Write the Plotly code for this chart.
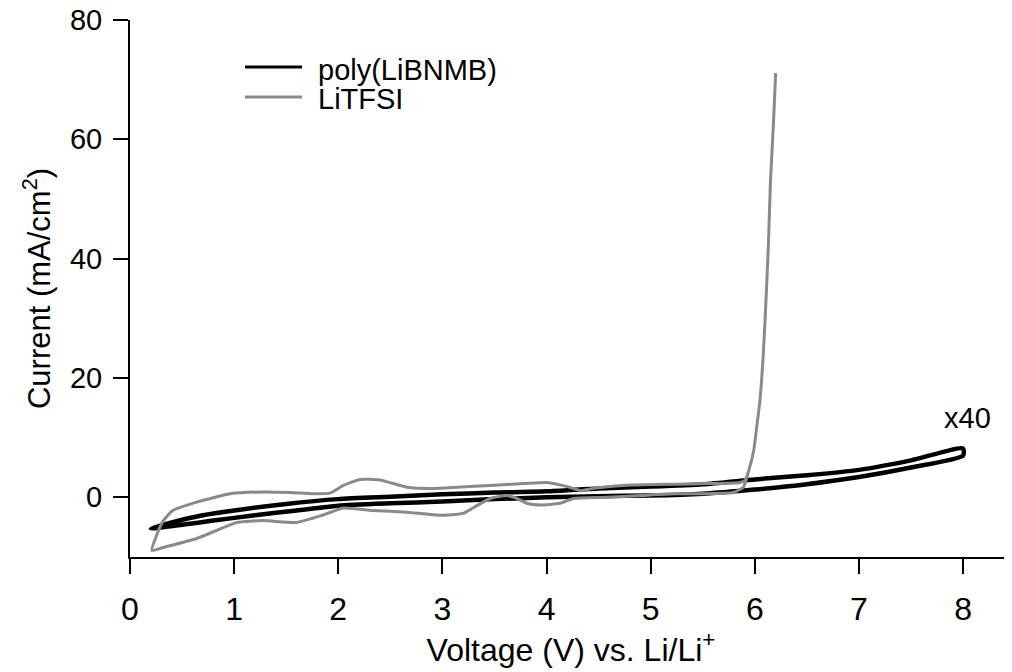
import plotly.graph_objects as go

# ---- data ----
# poly(LiBNMB): forward (lower) branch then reverse (upper) branch
poly_v_fwd = [0.2, 0.5, 0.8, 1.2, 1.6, 2.0, 2.5, 3.0, 3.5, 4.0, 4.5, 5.0, 5.5, 6.0, 6.5, 7.0, 7.5, 8.0]
poly_i_fwd = [-5.2, -4.6, -3.9, -3.0, -2.2, -1.4, -1.0, -0.7, -0.3, 0.0, 0.2, 0.3, 0.6, 1.3, 2.2, 3.4, 5.0, 7.0]
poly_v_rev = [8.0, 7.5, 7.0, 6.5, 6.0, 5.5, 5.0, 4.5, 4.0, 3.5, 3.0, 2.5, 2.0, 1.5, 1.0, 0.7, 0.4, 0.2]
poly_i_rev = [8.2, 6.2, 4.6, 3.7, 3.0, 2.2, 1.8, 1.5, 1.0, 0.8, 0.5, 0.1, -0.3, -1.1, -2.2, -3.0, -4.2, -5.2]

# LiTFSI: upper branch, breakdown spike, return, lower branch
litfsi_v_fwd = [0.21, 0.31, 0.41, 0.64, 0.96, 1.28, 1.54, 1.76, 1.92, 2.05, 2.21, 2.40, 2.66, 2.91,
                3.14, 3.46, 3.78, 4.00, 4.20, 4.33, 4.45, 4.74, 5.22, 5.54, 5.86, 5.91,
                5.95, 5.99, 6.02, 6.05, 6.08, 6.10, 6.13, 6.15, 6.18, 6.20]
litfsi_i_fwd = [-8.9, -4.2, -2.2, -0.8, 0.6, 0.9, 0.8, 0.6, 0.7, 2.0, 3.0, 2.9, 1.7, 1.5,
                1.7, 2.0, 2.3, 2.5, 1.8, 1.1, 1.5, 2.0, 2.2, 2.3, 2.5, 2.9,
                5.0, 7.9, 12.0, 16.3, 23.5, 30.2, 42.0, 52.7, 63.0, 71.1]
litfsi_v_rev = [6.20, 6.18, 6.15, 6.13, 6.10, 6.08, 6.05, 6.02, 5.99, 5.95, 5.89, 5.79, 5.54,
                5.22, 4.90, 4.58, 4.26, 4.13, 3.94, 3.81, 3.72, 3.62, 3.46, 3.30, 3.20, 2.98,
                2.66, 2.33, 2.05, 1.85, 1.60, 1.28, 1.03, 0.84, 0.64, 0.32, 0.21]
litfsi_i_rev = [71.1, 63.0, 52.7, 42.0, 30.2, 23.5, 16.3, 12.0, 7.9, 5.0, 1.7, 0.8, 0.6,
                0.6, 0.3, 0.0, -0.2, -1.0, -1.3, -1.0, -0.2, 0.3, -0.2, -1.7, -2.7, -3.0,
                -2.5, -2.2, -1.8, -3.0, -4.2, -3.9, -4.2, -5.5, -6.9, -8.4, -8.9]

series_names = ["poly(LiBNMB)", "LiTFSI"]
x_ticks = [0, 1, 2, 3, 4, 5, 6, 7, 8]
y_ticks = [0, 20, 40, 60, 80]
x_range = [0, 8.47]
y_range = [-10, 80]

FONT = "Liberation Sans, Arial, Helvetica, sans-serif"
BLACK = "#000000"
GRAY = "#8a8a8a"

fig = go.Figure()
fig.add_trace(go.Scatter(
    x=poly_v_fwd + poly_v_rev, y=poly_i_fwd + poly_i_rev,
    mode="lines", name=series_names[0],
    line=dict(color=BLACK, width=4.5, shape="spline", smoothing=0.6),
    showlegend=False))
fig.add_trace(go.Scatter(
    x=litfsi_v_fwd + litfsi_v_rev, y=litfsi_i_fwd + litfsi_i_rev,
    mode="lines", name=series_names[1],
    line=dict(color=GRAY, width=3, shape="spline", smoothing=0.5),
    showlegend=False))

# manual legend (line samples + labels); plot area spans page px 130..1012, 20..557
def px_x(px):
    return (px - 130) / 882.0

def px_y(py):
    return (557 - py) / 537.0

legend_rows = [(series_names[0], BLACK, 3, 67, 70),
               (series_names[1], GRAY, 3, 97, 99)]
for name, col, w, yl, yt in legend_rows:
    fig.add_shape(type="line", xref="paper", yref="paper",
                  x0=px_x(245), x1=px_x(302), y0=px_y(yl), y1=px_y(yl),
                  line=dict(color=col, width=w))
    fig.add_annotation(text=name, xref="paper", yref="paper",
                       x=px_x(316), y=px_y(yt), xanchor="left", yanchor="middle",
                       showarrow=False, font=dict(family=FONT, size=29, color=BLACK))

fig.add_annotation(text="x40", x=8.04, y=13.3, xref="x", yref="y",
                   showarrow=False, xanchor="center", yanchor="middle",
                   font=dict(family=FONT, size=29, color=BLACK))

# the page body adds an 8px offset, so margins are reduced accordingly
fig.update_layout(
    width=1012, height=672,
    margin=dict(l=122, r=8, t=12, b=123, autoexpand=False),
    paper_bgcolor="white", plot_bgcolor="white",
    font=dict(family=FONT, color=BLACK),
    showlegend=False,
)
fig.update_xaxes(
    range=x_range, tickvals=x_ticks, ticktext=[str(t) for t in x_ticks],
    showgrid=False, zeroline=False, automargin=False,
    showline=True, linecolor=BLACK, linewidth=2,
    ticks="outside", ticklen=15, tickwidth=2, tickcolor=BLACK,
    tickfont=dict(family=FONT, size=32), ticklabelstandoff=8,
    ticklabeloverflow="allow",
    title=dict(text="Voltage (V) vs. Li/Li<sup>+</sup>",
               font=dict(family=FONT, size=32), standoff=6),
)
fig.update_yaxes(
    range=y_range, tickvals=y_ticks, ticktext=[str(t) for t in y_ticks],
    showgrid=False, zeroline=False, automargin=False,
    showline=True, linecolor=BLACK, linewidth=2,
    ticks="outside", ticklen=15, tickwidth=2, tickcolor=BLACK,
    tickfont=dict(family=FONT, size=29), ticklabelstandoff=5,
    ticklabeloverflow="allow",
    title=dict(text="Current (mA/cm<sup>2</sup>)",
               font=dict(family=FONT, size=31), standoff=10),
)

fig.write_html("out.html")
